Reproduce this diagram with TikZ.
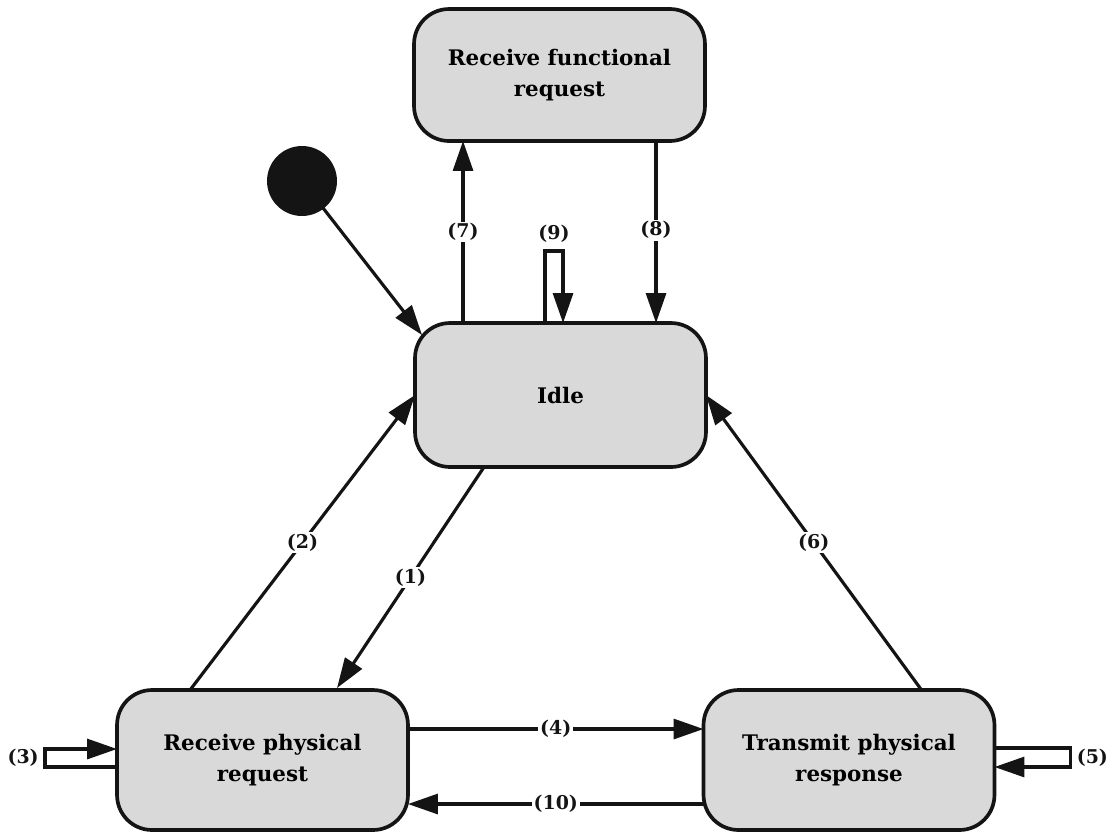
\documentclass[tikz,border=0pt]{standalone}
\usepackage{fontspec}
\setmainfont{DejaVu Serif}
\usetikzlibrary{calc,arrows.meta}
\definecolor{boxfill}{HTML}{D9D9D9}
\definecolor{ink}{HTML}{141414}
\begin{document}
\begin{tikzpicture}[x=0.02cm,y=-0.02cm,
  statebox/.style={draw=ink, fill=boxfill, line width=2.1pt, rounded corners=0.7cm,
    minimum width=5.82cm, outer sep=0pt, align=center, font=\bfseries\fontsize{12.2}{17.5}\selectfont},
  arr/.style={draw=ink, line width=1.8pt, -{Triangle[length=0.6cm,width=0.4cm]}},
  lbl/.style={fill=white, inner sep=1pt, font=\bfseries\fontsize{10.8}{12}\selectfont, text=ink}]
\useasboundingbox (0,0) rectangle (1110,833);

% states
\node[statebox, minimum height=2.64cm] (rf) at (559.5,75) {Receive functional\\request};
\node[statebox, minimum height=2.88cm] (idle) at (560.5,395) {Idle};
\node[statebox, minimum height=2.80cm] (rp) at (262.5,760) {Receive physical\\request};
\node[statebox, minimum height=2.80cm] (tp) at (849,760) {Transmit physical\\response};

% initial pseudo-state
\node[circle, fill=ink, minimum size=1.4cm, inner sep=0pt] (init) at (302,181) {};
\draw[arr] (init.center) -- ($(idle.north west)+(7,12)$);

% Idle <-> Receive functional request
\coordinate (a7) at ($(idle.north west)+(48,0)$);
\draw[arr] (a7) -- node[lbl, pos=0.5] {(7)} (a7 |- rf.south);
\coordinate (a8) at ($(idle.north west)+(241,0)$);
\draw[arr] (a8 |- rf.south) -- node[lbl, pos=0.49] {(8)} (a8);

% Idle self loop
\coordinate (a9) at ($(idle.north west)+(130,0)$);
\draw[arr] (a9) -- ++(0,-72) -- node[lbl, above=0.1cm] {(9)} ++(18,0) -- ($(idle.north west)+(148,0)$);

% Idle <-> Receive physical request
\draw[arr] ($(idle.south west)+(69,0)$) -- node[lbl] {(1)} ($(rp.north west)+(220,-2)$);
\draw[arr] ($(rp.north west)+(73,0)$) -- node[lbl] {(2)} (idle.west);

% Transmit physical response -> Idle
\draw[arr] ($(tp.north west)+(218,0)$) -- node[lbl] {(6)} (idle.east);

% Receive physical request <-> Transmit physical response
\coordinate (a4) at ($(rp.north east)+(0,39)$);
\draw[arr] (a4) -- node[lbl] {(4)} (a4 -| tp.west);
\coordinate (a10) at ($(tp.north west)+(0,114)$);
\draw[arr] (a10) -- node[lbl] {(10)} (a10 -| rp.east);

% self loops on the physical states
\draw[arr] ($(rp.west)+(0,7)$) -- ++(-72,0) -- node[lbl, left=0.06cm] {(3)} ++(0,-18) -- ($(rp.west)+(0,-11)$);
\draw[arr] ($(tp.east)+(0,-12)$) -- ++(76,0) -- node[lbl, right=0.06cm] {(5)} ++(0,19) -- ($(tp.east)+(0,7)$);
\end{tikzpicture}
\end{document}
